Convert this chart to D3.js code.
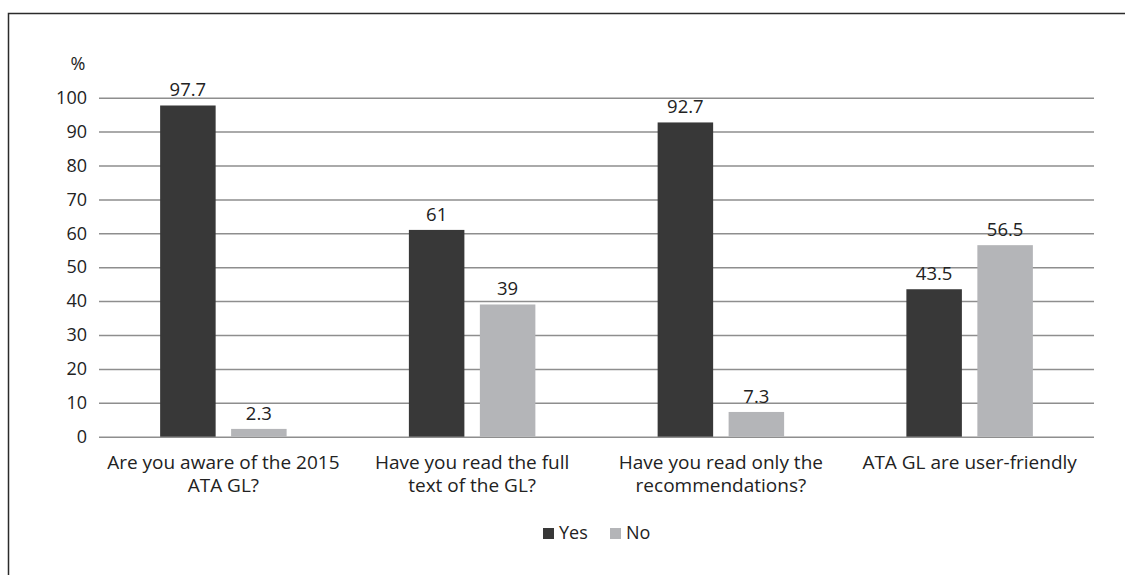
<!DOCTYPE html>
<html>
<head>
<meta charset="utf-8">
<script src="https://cdn.jsdelivr.net/npm/d3@7"></script>
<style>
  body { margin: 0; background: #fff; }
  svg text { font-family: "Open Sans", "Noto Sans", sans-serif; fill: #222; }
</style>
</head>
<body>
<div id="chart"></div>
<script>
// data
const categories = [
  ["Are you aware of the 2015", "ATA GL?"],
  ["Have you read the full", "text of the GL?"],
  ["Have you read only the", "recommendations?"],
  ["ATA GL are user-friendly"]
];
const series = ["Yes", "No"];
const yesValues = [97.7, 61, 92.7, 43.5];
const noValues = [2.3, 39, 7.3, 56.5];
const yTicks = [0, 10, 20, 30, 40, 50, 60, 70, 80, 90, 100];
const colors = {Yes: "#383838", No: "#b4b5b8"};

const width = 1125, height = 575;
const plot = {left: 99, right: 1094, top: 97.7, bottom: 436.7};

const svg = d3.select("#chart").append("svg")
  .attr("width", width)
  .attr("height", height);

// outer frame (runs off the right / bottom edge like the original)
svg.append("rect")
  .attr("x", 8.5).attr("y", 13.5)
  .attr("width", 1130).attr("height", 600)
  .attr("fill", "none")
  .attr("stroke", "#2b2b2b")
  .attr("stroke-width", 1.5);

const y = d3.scaleLinear().domain([0, 100]).range([plot.bottom, plot.top]);

const x0 = d3.scaleBand()
  .domain(d3.range(categories.length))
  .range([plot.left, plot.right])
  .paddingInner(0.4915)
  .paddingOuter(0.4915 / 2);

const x1 = d3.scaleBand()
  .domain(series)
  .range([0, x0.bandwidth()])
  .paddingInner(0.218);

// gridlines + tick labels
const yAxis = svg.append("g")
  .attr("transform", `translate(${plot.left},0)`)
  .call(d3.axisLeft(y).tickValues(yTicks).tickSize(-(plot.right - plot.left)).tickPadding(12));
yAxis.select(".domain").remove();
yAxis.selectAll(".tick line").attr("stroke", "#8e8e8e").attr("stroke-width", 1.5);
yAxis.selectAll(".tick text")
  .style("font-size", "18px")
  .style("font-family", "'Open Sans', sans-serif")
  .attr("fill", "#222");

svg.append("text")
  .attr("x", 78).attr("y", 70)
  .attr("text-anchor", "middle")
  .style("font-size", "18px")
  .text("%");

const rows = categories.map((c, i) => ({i, Yes: yesValues[i], No: noValues[i]}));

const groups = svg.selectAll("g.cat")
  .data(rows)
  .join("g")
  .attr("class", "cat")
  .attr("transform", d => `translate(${x0(d.i)},0)`);

groups.selectAll("rect")
  .data(d => series.map(s => ({s, v: d[s]})))
  .join("rect")
  .attr("x", d => x1(d.s))
  .attr("y", d => y(d.v))
  .attr("width", x1.bandwidth())
  .attr("height", d => y(0) - y(d.v))
  .attr("fill", d => colors[d.s]);

groups.selectAll("text.val")
  .data(d => series.map(s => ({s, v: d[s]})))
  .join("text")
  .attr("class", "val")
  .attr("x", d => x1(d.s) + x1.bandwidth() / 2)
  .attr("y", d => y(d.v) - 9)
  .attr("text-anchor", "middle")
  .style("font-size", "18.5px")
  .text(d => d.v);

// category labels, one text per line
categories.forEach((lines, i) => {
  svg.selectAll(null)
    .data(lines)
    .join("text")
    .attr("class", "catlabel")
    .attr("text-anchor", "middle")
    .attr("x", x0(i) + x0.bandwidth() / 2)
    .attr("y", (d, j) => 469 + j * 23)
    .style("font-size", "19px")
    .text(d => d);
});

// legend
const legend = svg.append("g").attr("transform", "translate(543,528)");
const legendX = [0, 67];
series.forEach((s, i) => {
  legend.append("rect")
    .attr("x", legendX[i]).attr("y", 0)
    .attr("width", 11).attr("height", 11)
    .attr("fill", colors[s]);
  legend.append("text")
    .attr("x", legendX[i] + 16).attr("y", 11)
    .style("font-size", "18px")
    .text(s);
});
</script>
</body>
</html>
